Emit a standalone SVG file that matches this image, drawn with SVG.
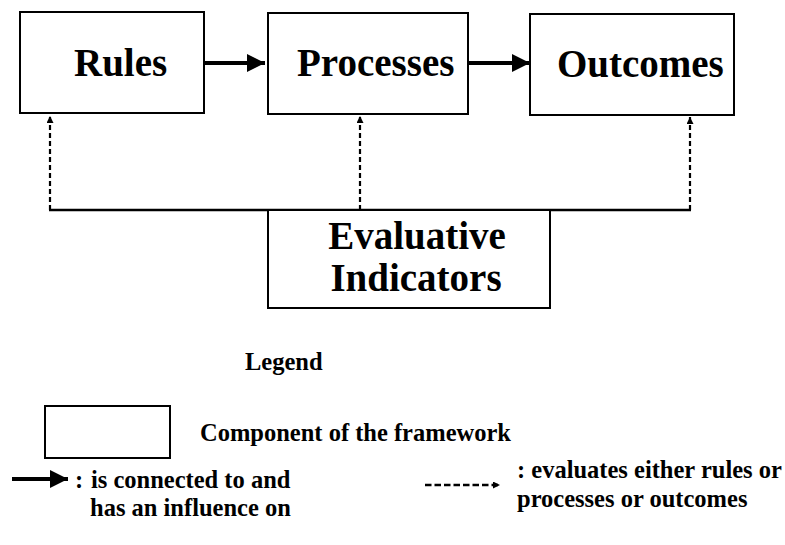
<svg xmlns="http://www.w3.org/2000/svg" width="785" height="545" viewBox="0 0 785 545">
<style>
.box{fill:#fff;stroke:#000;stroke-width:2}
text{font-weight:bold;fill:#000}
.big{font-size:39px}
.sm{font-size:24.5px}
.solid{stroke:#000;stroke-width:4;fill:none}
.dash{stroke:#000;stroke-width:2.2;stroke-dasharray:5 3;fill:none}
.ldash{stroke:#000;stroke-width:2.6;stroke-dasharray:6.5 3;fill:none}
.line{stroke:#000;stroke-width:2.5;fill:none}
</style>
<defs>
<marker id="big" viewBox="0 0 10 10" refX="10" refY="5" markerUnits="userSpaceOnUse" markerWidth="20" markerHeight="18" orient="auto"><path d="M0,0 L10,5 L0,10 Z" fill="#000"/></marker>
<marker id="small" viewBox="0 0 10 10" refX="10" refY="5" markerUnits="userSpaceOnUse" markerWidth="7" markerHeight="7" orient="auto"><path d="M0,0 L10,5 L0,10 Z" fill="#000"/></marker>
</defs>
<g id="connectors">
<line class="line" x1="49" y1="210" x2="691" y2="210"/>
<line class="dash" x1="50" y1="210" x2="50" y2="116" marker-end="url(#small)"/>
<line class="dash" x1="360" y1="210" x2="360" y2="116" marker-end="url(#small)"/>
<line class="dash" x1="690" y1="210" x2="690" y2="117" marker-end="url(#small)"/>
<line class="solid" x1="204" y1="63" x2="265" y2="63" marker-end="url(#big)"/>
<line class="solid" x1="469" y1="63" x2="530" y2="63" marker-end="url(#big)"/>
</g>
<g font-family="'Liberation Serif', Tinos, 'Times New Roman', Times, 'DejaVu Serif', serif">
<g id="rules"><rect class="box" x="20" y="12" width="184" height="101"/><text class="big" x="74" y="76">Rules</text></g>
<g id="processes"><rect class="box" x="268" y="13" width="200" height="101"/><text class="big" x="297" y="76">Processes</text></g>
<g id="outcomes"><rect class="box" x="530" y="14" width="204" height="101"/><text class="big" x="557" y="77">Outcomes</text></g>
<g id="evaluative"><rect class="box" x="268" y="210" width="282" height="98"/><text class="big" x="417" y="249" text-anchor="middle">Evaluative</text><text class="big" x="416" y="291" text-anchor="middle">Indicators</text></g>
<g id="legend">
<text class="sm" x="245" y="370">Legend</text>
<rect class="box" x="45" y="406" width="125" height="52"/>
<text class="sm" x="200" y="441">Component of the framework</text>
<line class="solid" x1="12" y1="479" x2="68" y2="479" marker-end="url(#big)"/>
<text class="sm" y="488"><tspan x="75">:</tspan><tspan x="91">is connected to and</tspan></text>
<text class="sm" x="90" y="516">has an influence on</text>
<line class="ldash" x1="425" y1="485" x2="500" y2="485" marker-end="url(#small)"/>
<text class="sm" x="517" y="478">: evaluates either rules or</text>
<text class="sm" x="517" y="507">processes or outcomes</text>
</g>
</g>
</svg>
